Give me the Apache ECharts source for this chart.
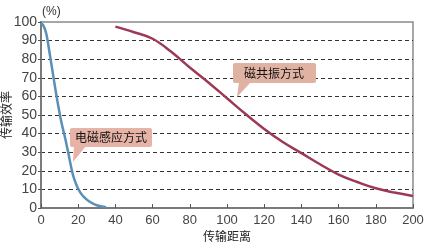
<!DOCTYPE html>
<html><head><meta charset="utf-8">
<script src="https://cdn.jsdelivr.net/npm/echarts@6/dist/echarts.min.js"></script>
<style>html,body{margin:0;padding:0;background:#fff}#c{width:430px;height:248px}</style>
</head><body><div id="c"></div>
<script>
// Data
var xTicks = [0, 20, 40, 60, 80, 100, 120, 140, 160, 180, 200];
var yTicks = [0, 10, 20, 30, 40, 50, 60, 70, 80, 90, 100];
var inductionDist = [0, 1, 2, 3, 5, 7, 9, 11, 13, 15, 17, 19, 21, 23, 26, 30, 35];
var inductionEff  = [99.5, 98.5, 96.5, 93, 81, 68.5, 56.5, 46, 37.5, 28, 18.5, 12.5, 8.5, 6, 3.5, 1.5, 0.4];
var resonanceDist = [40, 50, 60, 70, 80, 90, 100, 110, 120, 130, 140, 150, 160, 170, 180, 190, 200];
var resonanceEff  = [97.5, 94.5, 91, 84, 75.5, 67.5, 59, 50.5, 42.5, 35.5, 29.5, 23.5, 18, 14, 10.6, 8.3, 6.5];
var labelInduction = '电磁感应方式';
var labelResonance = '磁共振方式';

function pairs(xs, ys) { return xs.map(function (x, i) { return [x, ys[i]]; }); }

var chart = echarts.init(document.getElementById('c'), null, {renderer: 'canvas'});
var font = 'Arial, "Liberation Sans", "Noto Sans CJK SC", sans-serif';
chart.setOption({
  animation: false,
  grid: {left: 41, right: 17, top: 22, bottom: 40, containLabel: false, outerBoundsMode: 'none',
         show: true, borderColor: '#8a8a8a', borderWidth: 1.5},
  xAxis: {
    type: 'value', min: xTicks[0], max: xTicks[xTicks.length - 1], interval: 20,
    name: '传输距离', nameLocation: 'middle', nameGap: 24, nameMoveOverlap: false,
    nameTextStyle: {color: '#222', fontSize: 12, fontFamily: font},
    axisLine: {show: true, onZero: false, lineStyle: {color: '#7a7a7a', width: 2}},
    axisTick: {show: true, inside: true, length: 4, lineStyle: {color: '#555'}},
    axisLabel: {color: '#444', fontSize: 13, fontFamily: font, margin: 6},
    splitLine: {show: false}
  },
  yAxis: {
    type: 'value', min: yTicks[0], max: yTicks[yTicks.length - 1], interval: 10,
    name: '传输效率', nameLocation: 'middle', nameGap: 33, nameRotate: 90, nameMoveOverlap: false,
    nameTextStyle: {color: '#222', fontSize: 12, fontFamily: font, verticalAlign: 'middle'},
    axisLine: {show: true, lineStyle: {color: '#7a7a7a', width: 2}},
    axisTick: {show: true, length: 3, lineStyle: {color: '#555'}},
    axisLabel: {color: '#444', fontSize: 14, fontFamily: font, margin: 4},
    splitLine: {show: true, showMinLine: false, showMaxLine: false,
      lineStyle: {color: '#333', type: [4, 3], width: 1}}
  },
  series: [
    {type: 'line', data: pairs(inductionDist, inductionEff), smooth: 0.35, symbol: 'none',
     lineStyle: {color: '#5a8fb8', width: 2.5}, z: 3},
    {type: 'line', data: pairs(resonanceDist, resonanceEff), smooth: 0.4, symbol: 'none',
     lineStyle: {color: '#9c3a55', width: 2.5}, z: 3}
  ],
  graphic: [
    {type: 'text', left: 42, top: 6, style: {text: '(%)', fill: '#333', font: '12px ' + font}},
    // induction callout
    {type: 'polygon', shape: {points: [[74, 146], [86, 146], [73, 162]]}, style: {fill: '#e6b3a6'}, z: 5},
    {type: 'rect', shape: {x: 70, y: 128, width: 82, height: 19, r: 2}, style: {fill: '#e6b3a6'}, z: 5},
    {type: 'text', x: 111, y: 137.5, style: {text: labelInduction, fill: '#111', font: '12px "Noto Sans CJK SC", sans-serif', align: 'center', verticalAlign: 'middle'}, z: 6},
    // resonance callout
    {type: 'polygon', shape: {points: [[239, 82], [251, 82], [237, 97]]}, style: {fill: '#dfb2a2'}, z: 5},
    {type: 'rect', shape: {x: 233, y: 63, width: 83, height: 20, r: 2}, style: {fill: '#dfb2a2'}, z: 5},
    {type: 'text', x: 274, y: 73, style: {text: labelResonance, fill: '#111', font: '12px "Noto Sans CJK SC", sans-serif', align: 'center', verticalAlign: 'middle'}, z: 6}
  ]
});
</script></body></html>
